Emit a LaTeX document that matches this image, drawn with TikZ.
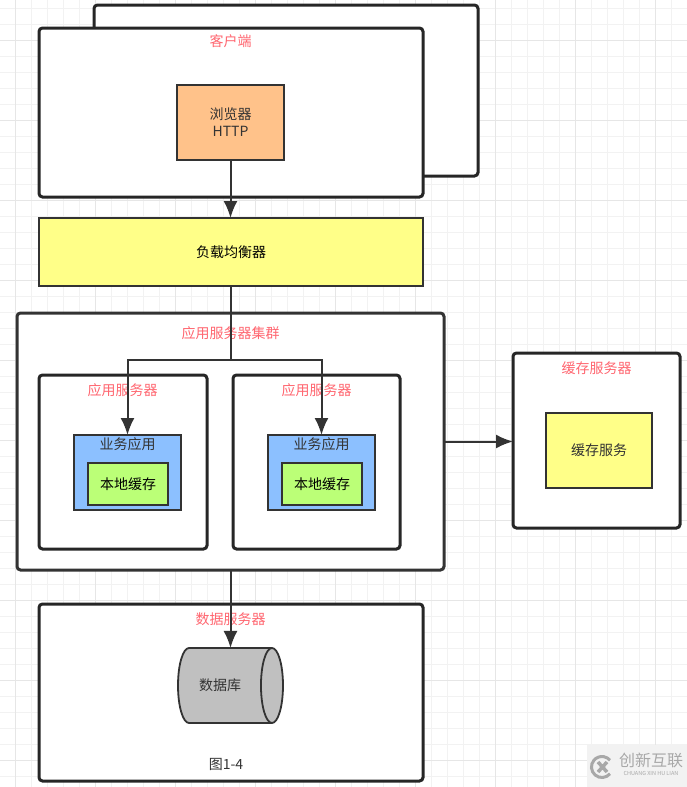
\documentclass[tikz,border=0pt]{standalone}
\usepackage{fontspec}
\setmainfont{Noto Sans CJK SC}
\usepackage{tikz}
\usetikzlibrary{shapes.geometric}
\usetikzlibrary{arrows.meta}

\definecolor{gridminor}{HTML}{F2F2F2}
\definecolor{gridmajor}{HTML}{E6E6E6}
\definecolor{linedark}{HTML}{333333}
\definecolor{labelred}{HTML}{FF6670}
\definecolor{browserfill}{HTML}{FFC28A}
\definecolor{yellowfill}{HTML}{FFFF88}
\definecolor{bizfill}{HTML}{8CC0FF}
\definecolor{cachefill}{HTML}{BBFF77}
\definecolor{dbfill}{HTML}{C0C0C0}
\definecolor{markgray}{HTML}{A8A8A8}

\tikzset{
    hostbox/.style={draw=black!85, fill=white, line width=3pt, rounded corners=3.5pt, inner sep=0pt, outer sep=0pt},
    itembox/.style={draw=linedark, line width=1.8pt, inner sep=0pt, outer sep=0pt, text=linedark, font=\fontsize{14}{17}\selectfont, align=center},
    redlabel/.style={text=labelred, font=\fontsize{14}{17}\selectfont, inner sep=0pt},
    conn/.style={draw=linedark, line width=2pt},
}

\begin{document}
\begin{tikzpicture}[x=1pt, y=-1pt, >={Latex[length=17pt, width=14pt]}]
        \useasboundingbox (0,0) rectangle (687,787);

        % Grid
        \foreach \gx in {15,31,...,687} \draw[gridminor, line width=0.8pt] (\gx,0) -- (\gx,787);
        \foreach \gy in {8,24,...,787} \draw[gridminor, line width=0.8pt] (0,\gy) -- (687,\gy);
        \foreach \gx in {15,95,...,687} \draw[gridmajor, line width=0.8pt] (\gx,0) -- (\gx,787);
        \foreach \gy in {40,120,...,787} \draw[gridmajor, line width=0.8pt] (0,\gy) -- (687,\gy);

        % Client
        \node at (286,90.5) [hostbox, minimum width=384, minimum height=171] (backclient) {};
        \node at (231,112.5) [hostbox, minimum width=384, minimum height=169] (client) {};
        \node at (230.5,41) [redlabel] (clientlabel) {客户端};
        \node at (230.5,122.5) [itembox, fill=browserfill, minimum width=107, minimum height=75] (browser) {浏览器\\HTTP};

        % Load balancer
        \node at (231,252) [itembox, fill=yellowfill, minimum width=384, minimum height=68, text=black] (balancer) {负载均衡器};

        % Application cluster
        \node at (230.5,441.5) [hostbox, draw=linedark, minimum width=427, minimum height=257] (cluster) {};
        \node at (230.5,333) [redlabel] (clusterlabel) {应用服务器集群};

        \node at (123,462) [hostbox, minimum width=168, minimum height=174] (appone) {};
        \node at (122.5,390) [redlabel] (apponelabel) {应用服务器};
        \node at (127.5,472.5) [itembox, fill=bizfill, minimum width=107, minimum height=75] (bizone) {};
        \node at (127.5,444) [itembox, draw=none, fill=none] (bizonelabel) {业务应用};
        \node at (128,484) [itembox, fill=cachefill, minimum width=80, minimum height=42, text=black] (cacheone) {本地缓存};

        \node at (316.5,462) [hostbox, minimum width=167, minimum height=174] (apptwo) {};
        \node at (316.5,390) [redlabel] (apptwolabel) {应用服务器};
        \node at (321.5,472.5) [itembox, fill=bizfill, minimum width=107, minimum height=75] (biztwo) {};
        \node at (321.5,444) [itembox, draw=none, fill=none] (biztwolabel) {业务应用};
        \node at (322,484) [itembox, fill=cachefill, minimum width=80, minimum height=42, text=black] (cachetwo) {本地缓存};

        % Cache server
        \node at (596.5,440.5) [hostbox, minimum width=167, minimum height=175] (cacheserver) {};
        \node at (596.5,368) [redlabel] (cacheserverlabel) {缓存服务器};
        \node at (599,450.5) [itembox, fill=yellowfill, minimum width=106, minimum height=75] (cacheservice) {缓存服务};

        % Data server
        \node at (231,692.5) [hostbox, minimum width=384, minimum height=177] (dataserver) {};
        \node at (230.5,619) [redlabel] (dataserverlabel) {数据服务器};
        \node at (230.5,685.5) [itembox, fill=dbfill, shape=cylinder, anchor=shape center, shape aspect=1.7, minimum width=75, minimum height=105] (database) {\phantom{数据库}};
        \node at (220,685.5) [itembox, draw=none, fill=none] (databaselabel) {数据库};
        \node at (226,764) [itembox, draw=none] (figcaption) {图1-4};

        % Arrows
        \coordinate (fork) at (230.5,360);
        \draw[conn, ->] (browser.south) -- (browser.south |- balancer.north);
        \draw[conn] (balancer.south -| fork) -- (fork);
        \draw[conn, ->] (fork) -| (bizone.north);
        \draw[conn, ->] (fork) -| (biztwo.north);
        \draw[conn, ->] (cluster.east) -- (cluster.east -| cacheserver.west);
        \draw[conn, ->] (cluster.south) -- (cluster.south |- database.north);

        % Watermark
        \fill[black!5] (587,745) rectangle (687,787);
        \draw[markgray, line width=3pt] (610,773.75) arc (40:320:10.5);
        \draw[markgray, line width=3.5pt] (598,762) -- (607,772) (607,762) -- (598,772);
        \node at (651,760) [text=markgray, inner sep=0pt, font=\fontsize{16}{18}\selectfont] (marktext) {创新互联};
        \node at (651,773) [text=markgray, inner sep=0pt, font=\fontsize{5.5}{6}\selectfont] (marksub) {CHUANG XIN HU LIAN};

    \end{tikzpicture}
\end{document}
